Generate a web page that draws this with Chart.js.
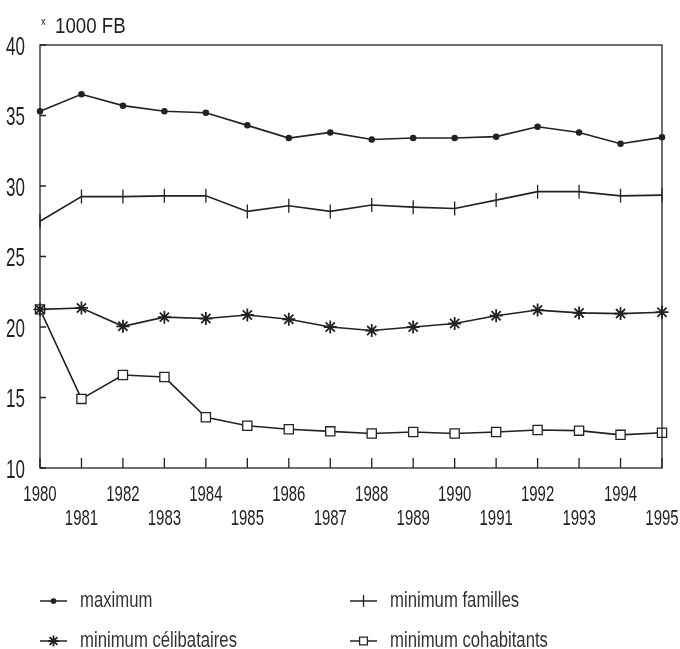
<!DOCTYPE html>
<html>
<head>
<meta charset="utf-8">
<script src="https://cdn.jsdelivr.net/npm/chart.js@4.4.1/dist/chart.umd.min.js"></script>
<style>
  html, body { margin:0; padding:0; background:#fff; }
  #wrap { width:680px; height:649px; }
</style>
</head>
<body>
<div id="wrap"><canvas id="chartMin"></canvas></div>
<script>
const years = ['1980','1981','1982','1983','1984','1985','1986','1987','1988','1989','1990','1991','1992','1993','1994','1995'];
const maximum      = [35.3, 36.5, 35.7, 35.3, 35.2, 34.3, 33.4, 33.8, 33.3, 33.4, 33.4, 33.5, 34.2, 33.8, 33.0, 33.45];
const minFamilles  = [27.5, 29.25, 29.25, 29.3, 29.3, 28.2, 28.6, 28.2, 28.65, 28.5, 28.4, 29.0, 29.6, 29.6, 29.3, 29.35];
const minCelib     = [21.25, 21.35, 20.05, 20.7, 20.6, 20.85, 20.55, 20.0, 19.75, 20.0, 20.25, 20.8, 21.2, 21.0, 20.95, 21.05];
const minCohab     = [21.25, 14.9, 16.6, 16.45, 13.6, 13.0, 12.75, 12.6, 12.45, 12.55, 12.45, 12.55, 12.7, 12.65, 12.35, 12.5];
const yTicks = [10, 15, 20, 25, 30, 35, 40];

const FONT = "'Liberation Sans', Arial, sans-serif";
const INK = '#222';

// the original lettering is a tall condensed stencil face; no such font here,
// so squeeze every text horizontally around its anchor point
const canvas = document.getElementById('chartMin');
const c2d = canvas.getContext('2d');
const rawFill = c2d.fillText.bind(c2d);
let squeeze = 0.68;
c2d.fillText = function(t, x, y, mw){
  this.save(); this.translate(x, y); this.scale(squeeze, 1);
  rawFill(t, 0, 0);
  this.restore();
};

// frame, inward ticks, unit label and two-column legend
const paperStyle = {
  id:'paperStyle',
  afterDatasetsDraw(chart){
    const {ctx, chartArea:a, scales:{x, y}} = chart;
    ctx.save();
    ctx.strokeStyle = INK; ctx.lineWidth = 1.3;
    ctx.strokeRect(a.left, a.top, a.right-a.left, a.bottom-a.top);
    ctx.beginPath();
    x.ticks.forEach((t,i)=>{
      const px = x.getPixelForTick(i);
      ctx.moveTo(px, a.bottom); ctx.lineTo(px, a.bottom-10);
    });
    y.ticks.forEach((t,i)=>{
      const py = y.getPixelForTick(i);
      ctx.moveTo(a.left, py); ctx.lineTo(a.left+6, py);
    });
    ctx.stroke();
    ctx.restore();
  },
  afterDraw(chart){
    const {ctx} = chart;
    ctx.save();
    ctx.fillStyle = INK;
    ctx.textBaseline = 'alphabetic';
    squeeze = 0.85;
    ctx.font = '11px ' + FONT;
    ctx.fillText('x', 41, 25);
    ctx.font = '22px ' + FONT;
    ctx.fillText('1000 FB', 55, 33);

    // legend
    squeeze = 0.76;
    const cols = [40, 350], rows = [601, 641];
    chart.data.datasets.forEach((ds, i)=>{
      const x0 = cols[i%2], yy = rows[Math.floor(i/2)];
      ctx.strokeStyle = INK; ctx.lineWidth = 1.5;
      ctx.beginPath(); ctx.moveTo(x0, yy); ctx.lineTo(x0+27, yy); ctx.stroke();
      const opts = {pointStyle: ds.pointStyle, radius: ds.pointRadius*0.85, rotation: ds.pointRotation||0, borderWidth: ds.pointBorderWidth||1.2};
      ctx.fillStyle = ds.pointBackgroundColor; ctx.strokeStyle = INK; ctx.lineWidth = opts.borderWidth;
      if (Chart.helpers && Chart.helpers.drawPoint) Chart.helpers.drawPoint(ctx, opts, x0+13.5, yy);
      ctx.fillStyle = '#333';
      ctx.font = '22px ' + FONT;
      ctx.textBaseline = 'middle';
      ctx.fillText(ds.label, x0+40, yy);
    });
    squeeze = 0.68;
    ctx.restore();
  }
};

function series(label, data, style, radius, extra){
  return Object.assign({
    label, data,
    borderColor: INK, borderWidth: 1.6, tension: 0,
    pointStyle: style, pointRadius: radius, pointHoverRadius: radius,
    pointBorderColor: INK, pointBackgroundColor: INK, pointBorderWidth: 1.3
  }, extra||{});
}

new Chart(canvas, {
  type:'line',
  data:{
    labels: years,
    datasets:[
      series('maximum', maximum, 'circle', 2.6),
      series('minimum familles', minFamilles, 'line', 7, {pointRotation:90}),
      series('minimum célibataires', minCelib, 'star', 6.5, {pointBorderWidth:1.8}),
      series('minimum cohabitants', minCohab, 'rect', 6.5, {pointBackgroundColor:'#fff'})
    ]
  },
  options:{
    responsive:true, maintainAspectRatio:false, animation:false,
    layout:{padding:{left:0, top:45, right:18, bottom:106}},
    plugins:{legend:{display:false}, tooltip:{enabled:false}},
    scales:{
      x:{
        offset:false,
        grid:{display:false}, border:{display:false},
        ticks:{
          autoSkip:false, maxRotation:0, color:INK, padding:7,
          font:{family:FONT, size:22, lineHeight:1.1},
          callback(v, i){ const l = this.getLabelForValue(v); return i%2 ? ['', l] : l; }
        },
        afterFit(s){ s.height = 75; s.paddingLeft = 0; s.paddingRight = 0; }
      },
      y:{
        min:10, max:40,
        afterBuildTicks(s){ s.ticks = yTicks.map(v=>({value:v})); },
        grid:{display:false}, border:{display:false},
        ticks:{color:INK, padding:7, labelOffset:3, font:{family:FONT, size:25}},
        afterFit(s){ s.width = 40; s.paddingTop = 0; s.paddingBottom = 0; }
      }
    }
  },
  plugins:[paperStyle]
});
</script>
</body>
</html>
